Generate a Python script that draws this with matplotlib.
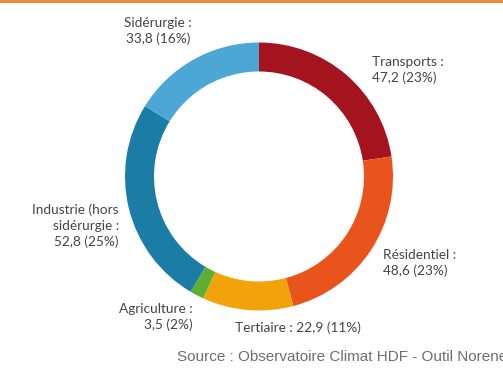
import matplotlib
matplotlib.use("Agg")
import matplotlib.pyplot as plt

# Émissions par secteur (valeurs et parts)
sectors = ["Transports", "Résidentiel", "Tertiaire", "Agriculture",
           "Industrie (hors sidérurgie)", "Sidérurgie"]
values = [47.2, 48.6, 22.9, 3.5, 52.8, 33.8]
shares = [23, 23, 11, 2, 25, 16]
colors = ["#A3141F", "#E9541C", "#F2A20A", "#5DAE32", "#1B7DA6", "#4CA6D6"]

W, H = 503, 370
fig = plt.figure(figsize=(W / 100, H / 100), dpi=100)
fig.patch.set_facecolor("white")
ax = fig.add_axes([0, 0, 1, 1])

cx, cy = 259, H - 176.5
R = 134
ax.pie(values, colors=colors, startangle=90, counterclock=False,
       center=(cx, cy), radius=R,
       wedgeprops=dict(width=29, linewidth=0))
ax.set_xlim(0, W)
ax.set_ylim(0, H)
ax.set_aspect("equal")
ax.axis("off")

def fmt(v):
    return f"{v:.1f}".replace(".", ",")

tc = "#444444"
fam = ["Lato", "DejaVu Sans"]
fs = 9.8

def label(x, y, text, ha):
    ax.text(x, H - y, text, ha=ha, va="center", fontsize=fs, color=tc,
            family=fam, linespacing=1.35, multialignment=ha)

label(158, 31, f"Sidérurgie :\n{fmt(values[5])} ({shares[5]}%)", "center")
label(372, 70, f"Transports :\n{fmt(values[0])} ({shares[0]}%)", "left")
label(383, 263, f"Résidentiel :\n{fmt(values[1])} ({shares[1]}%)", "left")
label(235, 328, f"Tertiaire : {fmt(values[2])} ({shares[2]}%)", "left")
label(193, 317, f"Agriculture :\n{fmt(values[3])} ({shares[3]}%)", "right")
label(119, 226, f"Industrie (hors\nsidérurgie :\n{fmt(values[4])} ({shares[4]}%)", "right")

# Bandeau orange en haut
ax.axhspan(H - 3, H, color="#EE8A3A", linewidth=0)

ax.text(177, H - 357, "Source : Observatoire Climat HDF - Outil Norene",
        ha="left", va="center", fontsize=11, color="#6e6e6e",
        family=["Liberation Sans", "DejaVu Sans"])

fig.savefig("out.png", dpi=100)
